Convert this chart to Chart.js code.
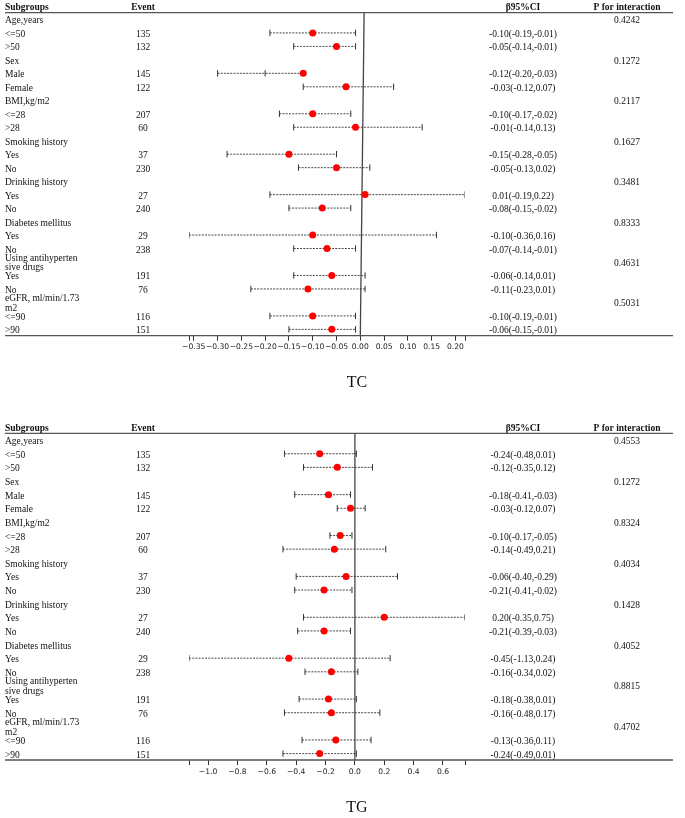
<!DOCTYPE html>
<html>
<head>
<meta charset="utf-8">
<script src="https://cdn.jsdelivr.net/npm/chart.js@4.4.1/dist/chart.umd.min.js"></script>
<style>
html, body { margin: 0; padding: 0; background: #fff; }
#wrap { position: relative; width: 685px; height: 818px; }
canvas { position: absolute; left: 0; }
</style>
</head>
<body>
<div id="wrap">
  <canvas id="tcChart" width="685" height="400" style="top:0"></canvas>
  <canvas id="tgChart" width="685" height="418" style="top:400px"></canvas>
</div>
<script>
// categories
var groups = ['Age,years', 'Sex', 'BMI,kg/m2', 'Smoking history', 'Drinking history',
              'Diabetes mellitus', 'Using antihyperten\nsive drugs', 'eGFR, ml/min/1.73\nm2'];
var subgroups = ['<=50', '>50', 'Male', 'Female', '<=28', '>28', 'Yes', 'No',
                 'Yes', 'No', 'Yes', 'No', 'Yes', 'No', '<=90', '>90'];
var events = [135, 132, 145, 122, 207, 60, 37, 230, 27, 240, 29, 238, 191, 76, 116, 151];

// TC panel (values as drawn)
var tcBeta  = [-0.10, -0.05, -0.12, -0.03, -0.10, -0.01, -0.15, -0.05, 0.01, -0.08, -0.10, -0.07, -0.06, -0.11, -0.10, -0.06];
var tcLower = [-0.19, -0.14, -0.30, -0.12, -0.17, -0.14, -0.28, -0.13, -0.19, -0.15, -0.36, -0.14, -0.14, -0.23, -0.19, -0.15];
var tcUpper = [-0.01, -0.01, -0.20, 0.07, -0.02, 0.13, -0.05, 0.02, 0.22, -0.02, 0.16, -0.01, 0.01, 0.01, -0.01, -0.01];
var tcCI = ['-0.10(-0.19,-0.01)', '-0.05(-0.14,-0.01)', '-0.12(-0.20,-0.03)', '-0.03(-0.12,0.07)',
            '-0.10(-0.17,-0.02)', '-0.01(-0.14,0.13)', '-0.15(-0.28,-0.05)', '-0.05(-0.13,0.02)',
            '0.01(-0.19,0.22)', '-0.08(-0.15,-0.02)', '-0.10(-0.36,0.16)', '-0.07(-0.14,-0.01)',
            '-0.06(-0.14,0.01)', '-0.11(-0.23,0.01)', '-0.10(-0.19,-0.01)', '-0.06(-0.15,-0.01)'];
var tcP = ['0.4242', '0.1272', '0.2117', '0.1627', '0.3481', '0.8333', '0.4631', '0.5031'];
var tcTicks = [-0.35, -0.30, -0.25, -0.20, -0.15, -0.10, -0.05, 0.00, 0.05, 0.10, 0.15, 0.20];

// TG panel (values as drawn)
var tgBeta  = [-0.24, -0.12, -0.18, -0.03, -0.10, -0.14, -0.06, -0.21, 0.20, -0.21, -0.45, -0.16, -0.18, -0.16, -0.13, -0.24];
var tgLower = [-0.48, -0.35, -0.41, -0.12, -0.17, -0.49, -0.40, -0.41, -0.35, -0.39, -1.13, -0.34, -0.38, -0.48, -0.36, -0.49];
var tgUpper = [0.01, 0.12, -0.03, 0.07, -0.02, 0.21, 0.29, -0.02, 0.75, -0.03, 0.24, 0.02, 0.01, 0.17, 0.11, 0.01];
var tgCI = ['-0.24(-0.48,0.01)', '-0.12(-0.35,0.12)', '-0.18(-0.41,-0.03)', '-0.03(-0.12,0.07)',
            '-0.10(-0.17,-0.05)', '-0.14(-0.49,0.21)', '-0.06(-0.40,-0.29)', '-0.21(-0.41,-0.02)',
            '0.20(-0.35,0.75)', '-0.21(-0.39,-0.03)', '-0.45(-1.13,0.24)', '-0.16(-0.34,0.02)',
            '-0.18(-0.38,0.01)', '-0.16(-0.48,0.17)', '-0.13(-0.36,0.11)', '-0.24(-0.49,0.01)'];
var tgP = ['0.4553', '0.1272', '0.8324', '0.4034', '0.1428', '0.4052', '0.8815', '0.4702'];
var tgTicks = [-1.0, -0.8, -0.6, -0.4, -0.2, 0.0, 0.2, 0.4, 0.6];

var SERIF = '"Liberation Serif", "Times New Roman", serif';

function subRow(k) { return 3 * Math.floor(k / 2) + 1 + (k % 2); }

function makeForest(id, o) {
    var xMin = Math.min.apply(null, o.lower);
    var xMax = Math.max.apply(null, o.upper);
    var datasets = [];

    // dots
    datasets.push({
        type: 'scatter',
        data: o.beta.map(function (b, k) { return { x: b, y: subRow(k) }; }),
        backgroundColor: '#ff0000', borderColor: '#ff0000', borderWidth: 0,
        pointRadius: 3.5, order: 1
    });
    // caps
    var caps = [];
    o.lower.forEach(function (lo, k) {
        caps.push({ x: lo, y: subRow(k) });
        caps.push({ x: o.upper[k], y: subRow(k) });
    });
    datasets.push({
        type: 'scatter', data: caps, pointStyle: 'line', rotation: 90,
        pointRadius: 3.2, borderColor: '#333', borderWidth: 1, order: 2
    });
    // dashed whiskers
    o.beta.forEach(function (b, k) {
        datasets.push({
            type: 'line',
            data: [{ x: Math.min(o.lower[k], b), y: subRow(k) }, { x: Math.max(o.upper[k], b), y: subRow(k) }],
            borderColor: '#333', borderWidth: 0.9, borderDash: [2, 1.2],
            pointRadius: 0, order: 3
        });
    });
    // zero line
    datasets.push({
        type: 'line',
        data: [{ x: o.zeroTop, y: -0.5 }, { x: 0, y: 23.47 }],
        borderColor: '#444', borderWidth: 1.3, pointRadius: 0, order: 4
    });

    var textPlugin = {
        id: 'forestText',
        afterDraw: function (chart) {
            var ctx = chart.ctx, area = chart.chartArea, yS = chart.scales.y;
            ctx.save();
            ctx.fillStyle = '#111';
            ctx.textBaseline = 'middle';
            // header
            ctx.font = 'bold 9.5px ' + SERIF;
            ctx.textAlign = 'left';
            ctx.fillText('Subgroups', 5, area.top - 5);
            ctx.textAlign = 'center';
            ctx.fillText('Event', 143, area.top - 5);
            ctx.fillText('\u03b295%CI', 523, area.top - 5);
            ctx.fillText('P for interaction', 627, area.top - 5);
            // rules
            ctx.strokeStyle = '#555';
            ctx.lineWidth = 1.3;
            ctx.beginPath();
            ctx.moveTo(5, area.top); ctx.lineTo(673, area.top);
            ctx.moveTo(5, area.bottom); ctx.lineTo(673, area.bottom);
            ctx.stroke();
            // rows
            ctx.font = '9.5px ' + SERIF;
            groups.forEach(function (g, gi) {
                var y = yS.getPixelForValue(3 * gi);
                var lines = g.split('\n');
                ctx.textAlign = 'left';
                if (lines.length === 1) {
                    ctx.fillText(lines[0], 5, y + 1.5);
                } else {
                    ctx.fillText(lines[0], 5, y - 3.5);
                    ctx.fillText(lines[1], 5, y + 6);
                }
                ctx.textAlign = 'center';
                ctx.fillText(o.p[gi], 627, y + 1.5);
            });
            subgroups.forEach(function (s, k) {
                var y = yS.getPixelForValue(subRow(k)) + 1.5;
                ctx.textAlign = 'left';
                ctx.fillText(s, 5, y);
                ctx.textAlign = 'center';
                ctx.fillText(String(events[k]), 143, y);
                ctx.fillText(o.ci[k], 523, y);
            });
            // caption
            ctx.font = '16px ' + SERIF;
            ctx.textAlign = 'center';
            ctx.fillText(o.caption, 357, o.captionY);
            ctx.restore();
        }
    };

    return new Chart(document.getElementById(id), {
        type: 'scatter',
        data: { datasets: datasets },
        options: {
            responsive: false,
            animation: false,
            layout: { padding: { left: 189, right: 220, top: o.top, bottom: o.bottom } },
            plugins: { legend: { display: false }, tooltip: { enabled: false } },
            scales: {
                x: {
                    type: 'linear', min: xMin, max: xMax,
                    afterBuildTicks: function (axis) {
                        axis.ticks = [xMin].concat(o.ticks).concat([xMax]).map(function (v) { return { value: v }; });
                    },
                    afterFit: function (axis) { axis.height = 20; },
                    ticks: {
                        autoSkip: false, maxRotation: 0, padding: 2, color: '#222',
                        font: { family: '"DejaVu Sans", sans-serif', size: 7.6 },
                        callback: function (v) {
                            var hit = o.ticks.some(function (t) { return Math.abs(t - v) < 1e-9; });
                            return hit ? Number(v).toFixed(o.dec).replace('-', '\u2212') : '';
                        }
                    },
                    grid: { display: true, drawOnChartArea: false, drawTicks: true, tickLength: 5, tickColor: '#333', tickWidth: 1 },
                    border: { display: false }
                },
                y: { type: 'linear', min: -0.5, max: 23.47, reverse: true, display: false }
            }
        },
        plugins: [textPlugin]
    });
}

makeForest('tcChart', {
    beta: tcBeta, lower: tcLower, upper: tcUpper, ci: tcCI, p: tcP, ticks: tcTicks, dec: 2,
    zeroTop: 0.008, top: 12.7, bottom: 44.3, caption: 'TC', captionY: 383
});
makeForest('tgChart', {
    beta: tgBeta, lower: tgLower, upper: tgUpper, ci: tgCI, p: tgP, ticks: tgTicks, dec: 1,
    zeroTop: 0, top: 33.3, bottom: 38, caption: 'TG', captionY: 408
});
</script>
</body>
</html>
